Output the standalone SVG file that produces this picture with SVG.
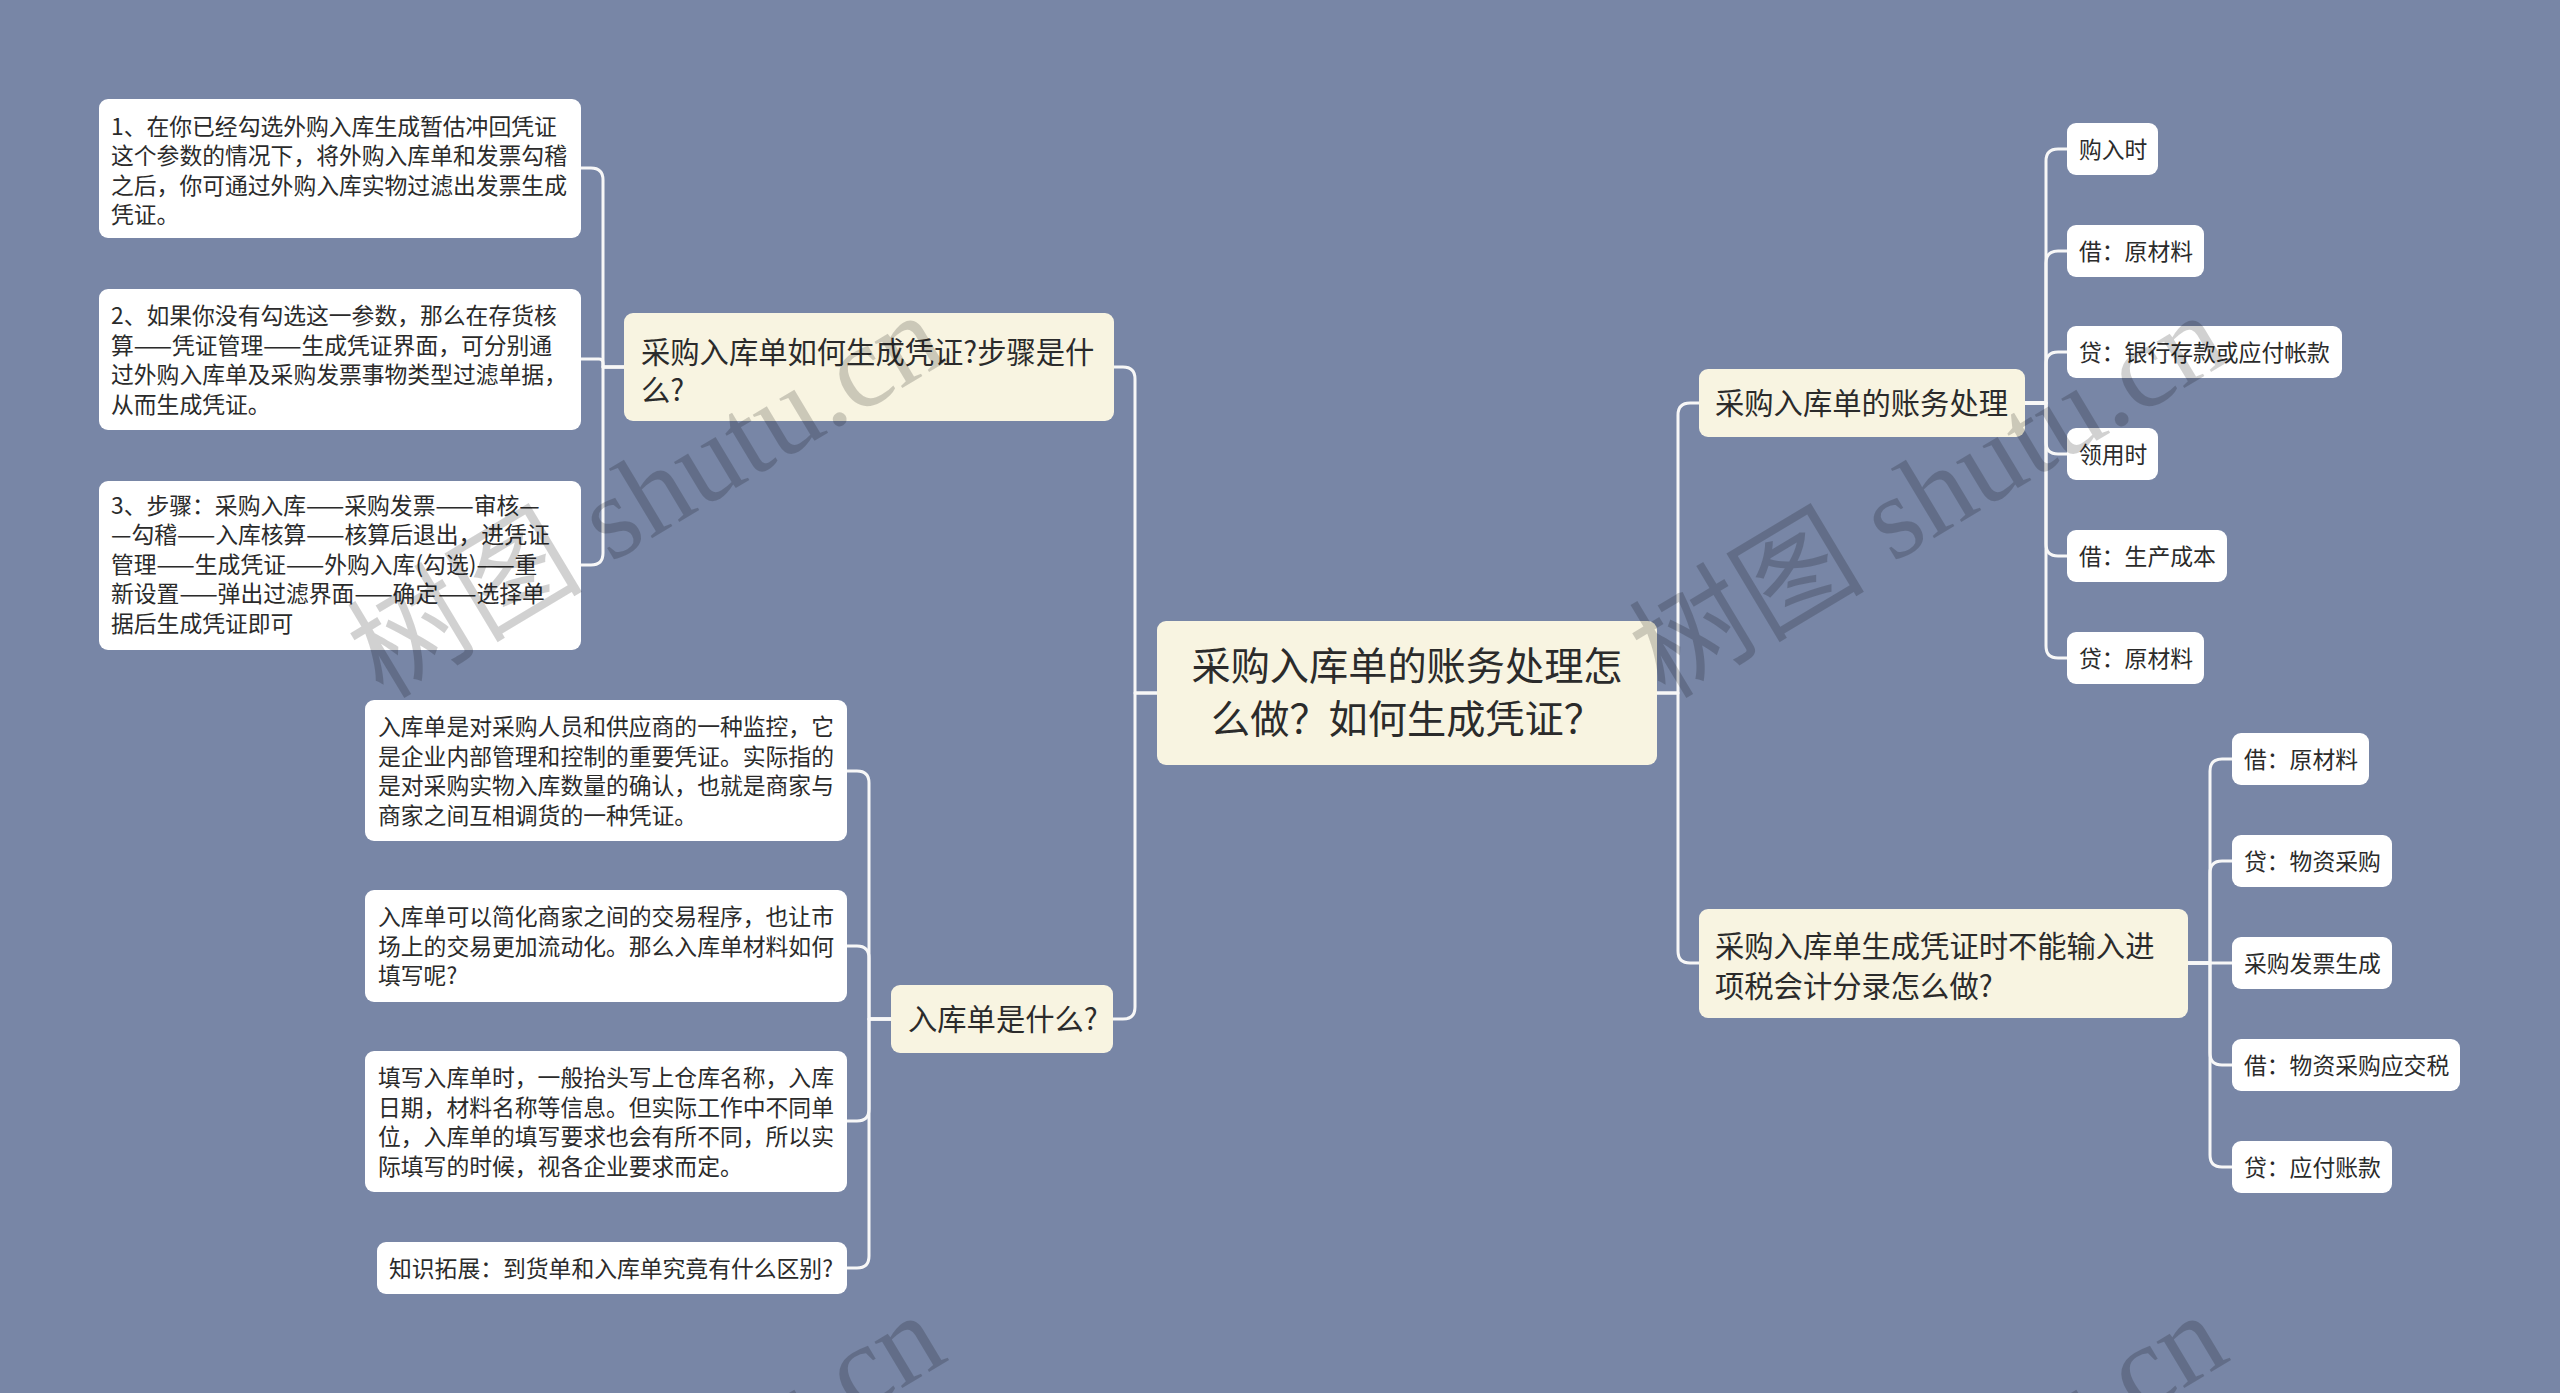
<svg xmlns="http://www.w3.org/2000/svg" width="2560" height="1393" viewBox="0 0 2560 1393">
<style>
.bg{fill:#7886a6}
.main{fill:#f8f4e1}
.leaf{fill:#ffffff}
.t{font-family:"Noto Sans CJK SC","Noto Sans",sans-serif;fill:#2b2b2b}
.tr{font-size:39.2px}
.t1{font-size:29.3px}
.tl{font-size:22.8px}
.con path{fill:none;stroke:#f7f7f7;stroke-width:3;stroke-linecap:round;stroke-linejoin:round}
.wm{font-family:"Liberation Serif","Noto Sans CJK SC",serif;font-size:118px;fill:#000;fill-opacity:0.18}
</style>
<rect class="bg" x="0" y="0" width="2560" height="1393"/>

<g id="connectors" class="con">
<path d="M1157,693 H1135 V379 Q1135,367 1123,367 H1114"/>
<path d="M1157,693 H1135 V1007 Q1135,1019 1123,1019 H1113"/>
<path d="M624,367 H603 V180 Q603,168 591,168 H581"/>
<path d="M624,367 H603 V363 Q603,359 599,359 H581"/>
<path d="M624,367 H603 V553 Q603,565 591,565 H581"/>
<path d="M891,1019 H869 V783 Q869,771 857,771 H847"/>
<path d="M891,1019 H869 V958 Q869,946 857,946 H847"/>
<path d="M891,1019 H869 V1109 Q869,1121 857,1121 H847"/>
<path d="M891,1019 H869 V1256 Q869,1268 857,1268 H847"/>
<path d="M1657,693 H1678 V415 Q1678,403 1690,403 H1699"/>
<path d="M1657,693 H1678 V951 Q1678,963 1690,963 H1699"/>
<path d="M2025,403 H2046 V161 Q2046,149 2058,149 H2067"/>
<path d="M2025,403 H2046 V263 Q2046,251 2058,251 H2067"/>
<path d="M2025,403 H2046 V364 Q2046,352 2058,352 H2067"/>
<path d="M2025,403 H2046 V442 Q2046,454 2058,454 H2067"/>
<path d="M2025,403 H2046 V544 Q2046,556 2058,556 H2067"/>
<path d="M2025,403 H2046 V646 Q2046,658 2058,658 H2067"/>
<path d="M2188,963 H2210 V771 Q2210,759 2222,759 H2232"/>
<path d="M2188,963 H2210 V873 Q2210,861 2222,861 H2232"/>
<path d="M2188,963 H2232"/>
<path d="M2188,963 H2210 V1053 Q2210,1065 2222,1065 H2232"/>
<path d="M2188,963 H2210 V1155 Q2210,1167 2222,1167 H2232"/>
</g>

<g id="root">
<rect class="main" x="1157" y="621" width="500" height="144" rx="9"/>
<text class="t tr" text-anchor="middle"><tspan x="1407" y="680">采购入库单的账务处理怎</tspan><tspan x="1407" y="733">么做？如何生成凭证？</tspan></text>
</g>

<g id="n-how">
<rect class="main" x="624" y="313" width="490" height="108" rx="9"/>
<text class="t t1"><tspan x="641" y="363">采购入库单如何生成凭证?步骤是什</tspan><tspan x="641" y="401">么?</tspan></text>
</g>

<g id="leaf-how-1">
<rect class="leaf" x="99" y="99" width="482" height="139" rx="9"/>
<text class="t tl"><tspan x="111" y="134.5">1、在你已经勾选外购入库生成暂估冲回凭证</tspan><tspan x="111" y="164">这个参数的情况下，将外购入库单和发票勾稽</tspan><tspan x="111" y="193.5">之后，你可通过外购入库实物过滤出发票生成</tspan><tspan x="111" y="223">凭证。</tspan></text>
</g>

<g id="leaf-how-2">
<rect class="leaf" x="99" y="289" width="482" height="141" rx="9"/>
<text class="t tl"><tspan x="111" y="324">2、如果你没有勾选这一参数，那么在存货核</tspan><tspan x="111" y="353.5">算——凭证管理——生成凭证界面，可分别通</tspan><tspan x="111" y="383">过外购入库单及采购发票事物类型过滤单据，</tspan><tspan x="111" y="412.5">从而生成凭证。</tspan></text>
</g>

<g id="leaf-how-3">
<rect class="leaf" x="99" y="481" width="482" height="169" rx="9"/>
<text class="t tl"><tspan x="111" y="513.5">3、步骤：采购入库——采购发票——审核—</tspan><tspan x="111" y="543">—勾稽——入库核算——核算后退出，进凭证</tspan><tspan x="111" y="572.5">管理——生成凭证——外购入库(勾选)——重</tspan><tspan x="111" y="602">新设置——弹出过滤界面——确定——选择单</tspan><tspan x="111" y="631.5">据后生成凭证即可</tspan></text>
</g>

<g id="n-what">
<rect class="main" x="891" y="985" width="222" height="68" rx="9"/>
<text class="t t1" x="908" y="1030">入库单是什么?</text>
</g>

<g id="leaf-what-1">
<rect class="leaf" x="365" y="700" width="482" height="141" rx="9"/>
<text class="t tl"><tspan x="378" y="735">入库单是对采购人员和供应商的一种监控，它</tspan><tspan x="378" y="764.5">是企业内部管理和控制的重要凭证。实际指的</tspan><tspan x="378" y="794">是对采购实物入库数量的确认，也就是商家与</tspan><tspan x="378" y="823.5">商家之间互相调货的一种凭证。</tspan></text>
</g>

<g id="leaf-what-2">
<rect class="leaf" x="365" y="890" width="482" height="112" rx="9"/>
<text class="t tl"><tspan x="378" y="925">入库单可以简化商家之间的交易程序，也让市</tspan><tspan x="378" y="954.5">场上的交易更加流动化。那么入库单材料如何</tspan><tspan x="378" y="984">填写呢?</tspan></text>
</g>

<g id="leaf-what-3">
<rect class="leaf" x="365" y="1051" width="482" height="141" rx="9"/>
<text class="t tl"><tspan x="378" y="1086">填写入库单时，一般抬头写上仓库名称，入库</tspan><tspan x="378" y="1115.5">日期，材料名称等信息。但实际工作中不同单</tspan><tspan x="378" y="1145">位，入库单的填写要求也会有所不同，所以实</tspan><tspan x="378" y="1174.5">际填写的时候，视各企业要求而定。</tspan></text>
</g>

<g id="leaf-what-4">
<rect class="leaf" x="377" y="1242" width="470" height="52" rx="9"/>
<text class="t tl" x="389" y="1276.5">知识拓展：到货单和入库单究竟有什么区别?</text>
</g>

<g id="n-account">
<rect class="main" x="1699" y="369" width="326" height="68" rx="9"/>
<text class="t t1" x="1715" y="414">采购入库单的账务处理</text>
</g>

<g id="leaf-acc-1"><rect class="leaf" x="2067" y="123" width="91" height="52" rx="9"/><text class="t tl" x="2079" y="157.5">购入时</text></g>
<g id="leaf-acc-2"><rect class="leaf" x="2067" y="225" width="137" height="52" rx="9"/><text class="t tl" x="2079" y="259.5">借：原材料</text></g>
<g id="leaf-acc-3"><rect class="leaf" x="2067" y="326" width="275" height="52" rx="9"/><text class="t tl" x="2079" y="360.5">贷：银行存款或应付帐款</text></g>
<g id="leaf-acc-4"><rect class="leaf" x="2067" y="428" width="91" height="52" rx="9"/><text class="t tl" x="2079" y="462.5">领用时</text></g>
<g id="leaf-acc-5"><rect class="leaf" x="2067" y="530" width="160" height="52" rx="9"/><text class="t tl" x="2079" y="564.5">借：生产成本</text></g>
<g id="leaf-acc-6"><rect class="leaf" x="2067" y="632" width="137" height="52" rx="9"/><text class="t tl" x="2079" y="666.5">贷：原材料</text></g>

<g id="n-tax">
<rect class="main" x="1699" y="909" width="489" height="109" rx="9"/>
<text class="t t1"><tspan x="1715" y="957">采购入库单生成凭证时不能输入进</tspan><tspan x="1715" y="997">项税会计分录怎么做?</tspan></text>
</g>

<g id="leaf-tax-1"><rect class="leaf" x="2232" y="733" width="137" height="52" rx="9"/><text class="t tl" x="2244" y="767.5">借：原材料</text></g>
<g id="leaf-tax-2"><rect class="leaf" x="2232" y="835" width="160" height="52" rx="9"/><text class="t tl" x="2244" y="869.5">贷：物资采购</text></g>
<g id="leaf-tax-3"><rect class="leaf" x="2232" y="937" width="160" height="52" rx="9"/><text class="t tl" x="2244" y="971.5">采购发票生成</text></g>
<g id="leaf-tax-4"><rect class="leaf" x="2232" y="1039" width="228" height="52" rx="9"/><text class="t tl" x="2244" y="1073.5">借：物资采购应交税</text></g>
<g id="leaf-tax-5"><rect class="leaf" x="2232" y="1141" width="160" height="52" rx="9"/><text class="t tl" x="2244" y="1175.5">贷：应付账款</text></g>

<g id="watermarks">
<text class="wm" transform="translate(383,700) rotate(-31)">树图 shutu.cn</text>
<text class="wm" transform="translate(1665,700) rotate(-31)">树图 shutu.cn</text>
<text class="wm" transform="translate(383,1700) rotate(-31)">树图 shutu.cn</text>
<text class="wm" transform="translate(1665,1700) rotate(-31)">树图 shutu.cn</text>
</g>
</svg>
